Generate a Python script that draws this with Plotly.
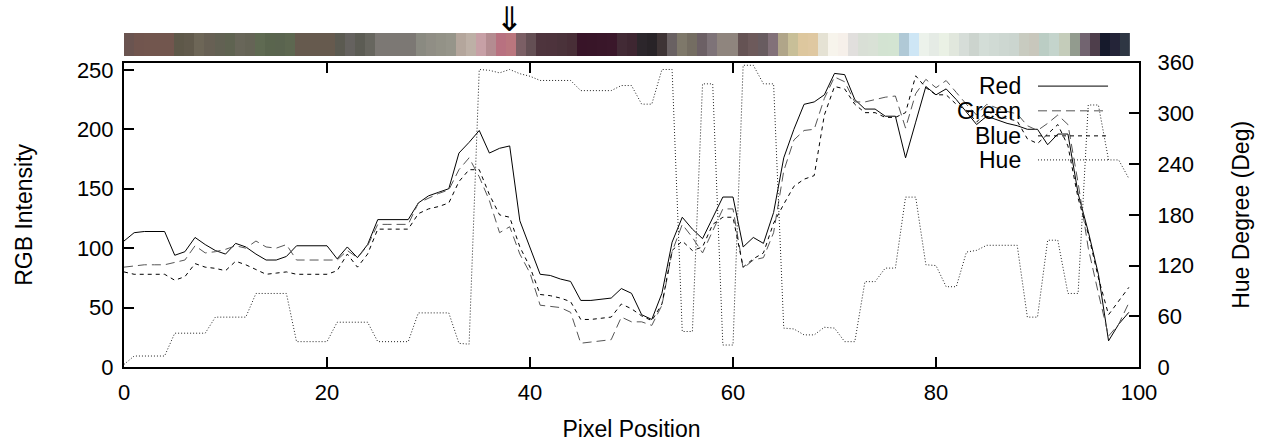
import plotly.graph_objects as go

# Pixel index along the sampled scan line
pixels = list(range(100))

red = [106, 113, 114, 114, 114, 94, 97, 109, 103, 98, 95, 104, 101, 95, 90, 90, 93, 102, 102, 102,
       102, 91, 101, 92, 103, 124, 124, 124, 124, 138, 144, 147, 150, 180, 189, 199, 180, 184, 186, 123,
       100, 78, 77, 74, 72, 56, 56, 57, 58, 66, 62, 44, 40, 62, 105, 126, 116, 108, 126, 143,
       143, 101, 109, 104, 130, 176, 200, 221, 223, 229, 247, 246, 225, 217, 217, 211, 211, 176, 206, 236,
       229, 234, 225, 214, 204, 211, 208, 205, 203, 200, 200, 187, 196, 196, 146, 114, 78, 22, 36, 46]

green = [84, 85, 86, 86, 86, 88, 90, 102, 96, 97, 99, 102, 100, 106, 101, 100, 103, 90, 90, 90,
         90, 90, 98, 92, 102, 120, 120, 120, 120, 138, 142, 146, 149, 166, 176, 160, 140, 113, 118, 95,
         79, 52, 51, 50, 46, 20, 21, 22, 23, 42, 38, 38, 35, 52, 97, 120, 109, 96, 115, 133,
         133, 83, 90, 92, 113, 165, 191, 199, 200, 226, 244, 240, 223, 223, 225, 227, 228, 201, 230, 242,
         235, 241, 231, 221, 212, 221, 218, 215, 213, 203, 199, 205, 212, 204, 155, 100, 62, 26, 36, 54]

blue = [80, 78, 78, 78, 78, 73, 76, 87, 84, 83, 81, 89, 86, 82, 78, 79, 80, 78, 78, 78,
        78, 81, 95, 84, 95, 116, 116, 116, 116, 129, 133, 135, 138, 156, 166, 166, 145, 128, 126, 101,
        84, 61, 60, 58, 55, 40, 40, 41, 42, 53, 49, 43, 39, 53, 98, 106, 98, 101, 120, 126,
        126, 84, 91, 96, 121, 137, 152, 158, 161, 212, 236, 234, 221, 214, 214, 210, 210, 214, 245, 235,
        229, 229, 221, 216, 206, 215, 212, 209, 207, 192, 188, 196, 204, 186, 142, 112, 75, 44, 56, 67]

hue = [3, 13, 13, 13, 13, 40, 40, 40, 40, 59, 59, 59, 59, 87, 87, 87, 87, 30, 30, 30,
       30, 53, 53, 53, 53, 30, 30, 30, 30, 64, 64, 64, 64, 28, 27, 352, 351, 348, 352, 347,
       344, 339, 339, 339, 339, 327, 327, 327, 327, 333, 333, 311, 311, 352, 352, 42, 42, 335, 335, 26,
       26, 357, 357, 335, 335, 46, 45, 38, 38, 47, 46, 30, 30, 101, 101, 117, 117, 201, 201, 121,
       120, 95, 95, 136, 138, 144, 144, 144, 144, 59, 59, 150, 150, 87, 87, 310, 310, 245, 245, 223]

series_names = ["Red", "Green", "Blue", "Hue"]

FONT = "Liberation Sans, Arial, sans-serif"
TICK_SIZE = 22
TITLE_SIZE = 23

fig = go.Figure()

# Colour strip of the sampled pixels, one bar per pixel
strip_colors = [f"rgb({r},{g},{b})" for r, g, b in zip(red, green, blue)]
fig.add_trace(go.Bar(
    x=[p + 0.5 for p in pixels], y=[1] * len(pixels), width=1,
    marker=dict(color=strip_colors, line=dict(width=0)),
    xaxis="x2", yaxis="y3", showlegend=False, hoverinfo="skip",
))

styles = {
    "Red": dict(color="black", width=1, dash="solid"),
    "Green": dict(color="#555555", width=1, dash="9px,5px"),
    "Blue": dict(color="black", width=1, dash="4px,4px"),
    "Hue": dict(color="#222222", width=1, dash="1px,2px"),
}

for name, vals in zip(series_names[:3], [red, green, blue]):
    fig.add_trace(go.Scatter(x=pixels, y=vals, mode="lines", name=name,
                             line=styles[name], showlegend=False))
fig.add_trace(go.Scatter(x=pixels, y=hue, mode="lines", name="Hue",
                         line=styles["Hue"], yaxis="y2", showlegend=False))

axis_common = dict(showgrid=False, zeroline=False, showline=True, linecolor="black",
                   linewidth=2, ticks="inside", ticklen=10, tickwidth=2, tickcolor="black",
                   automargin=False,
                   tickfont=dict(family=FONT, size=TICK_SIZE, color="black"))

fig.update_layout(
    width=1262, height=444,
    margin=dict(l=124, r=123, t=33, b=77),
    paper_bgcolor="white", plot_bgcolor="white",
    bargap=0,
    font=dict(family=FONT, size=TICK_SIZE, color="black"),
    xaxis=dict(range=[0, 100], dtick=20, mirror="ticks", anchor="y", ticklabelstandoff=5,
               title=dict(text="Pixel Position", font=dict(size=TITLE_SIZE), standoff=16),
               **axis_common),
    yaxis=dict(range=[0, 256], dtick=50, domain=[0, 0.911], mirror=True, ticklabelstandoff=4,
               title=dict(text="RGB Intensity", font=dict(size=TITLE_SIZE), standoff=38),
               **axis_common),
    yaxis2=dict(range=[0, 360], dtick=60, overlaying="y", side="right", anchor="x",
                ticklabelstandoff=12,
                title=dict(text="Hue Degree (Deg)", font=dict(size=TITLE_SIZE), standoff=40),
                **axis_common),
    xaxis2=dict(range=[0, 100], domain=[0, 0.991], anchor="y3", visible=False),
    yaxis3=dict(range=[0, 1], domain=[0.931, 1.0], anchor="x2", visible=False),
)

# Marker above the strip pointing at the selected pixel
fig.add_annotation(x=38, xref="x", y=1.0, yref="paper", yanchor="bottom", yshift=-8,
                   text="⇓", showarrow=False,
                   font=dict(family="DejaVu Sans", size=34, color="black"))

# Key: labels on the left, line samples on the right
key_rows = [0.841, 0.767, 0.692, 0.620]
for name, ky in zip(series_names, key_rows):
    fig.add_annotation(x=0.8857, xref="paper", y=ky, yref="paper", xanchor="right",
                       yanchor="middle", text=name, showarrow=False,
                       font=dict(family=FONT, size=TITLE_SIZE, color="black"))
    fig.add_shape(type="line", xref="paper", yref="paper", x0=0.9005, x1=0.9695,
                  y0=ky, y1=ky, line=styles[name])

fig.write_html("out.html")
